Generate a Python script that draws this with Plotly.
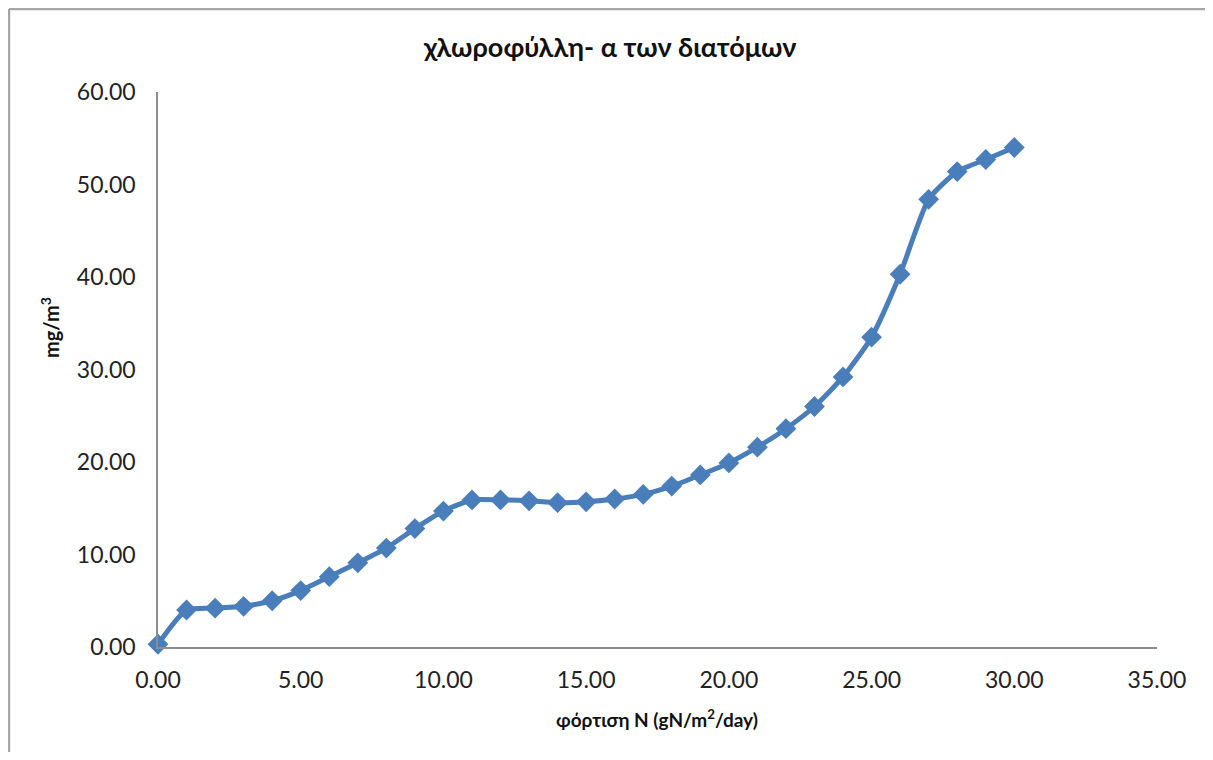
import plotly.graph_objects as go

x_load = [0, 1, 2, 3, 4, 5, 6, 7, 8, 9, 10, 11, 12, 13, 14, 15, 16, 17, 18, 19, 20,
          21, 22, 23, 24, 25, 26, 27, 28, 29, 30]
chl_a = [0.3, 4.0, 4.2, 4.4, 5.0, 6.1, 7.6, 9.1, 10.7, 12.8, 14.7, 15.9, 15.9, 15.8, 15.6,
         15.7, 16.0, 16.5, 17.4, 18.6, 19.9, 21.6, 23.6, 26.0, 29.2, 33.5, 40.3, 48.4,
         51.4, 52.7, 54.0]

x_ticks = [0, 5, 10, 15, 20, 25, 30, 35]
y_ticks = [0, 10, 20, 30, 40, 50, 60]

color = "#4a7ebb"
font_family = "Lato, 'Open Sans', sans-serif"

# page body has an 8px margin; the figure is offset by (8, 8)
W, H = 1197, 744
L, R, T, B = 150, 48, 84, 105
pw, ph = W - L - R, H - T - B


def px(sx):
    return (sx - 8 - L) / pw


def py(sy):
    return (H - B - (sy - 8)) / ph


fig = go.Figure()
fig.add_trace(go.Scatter(
    x=x_load, y=chl_a, mode="lines+markers",
    line=dict(color=color, width=5, shape="spline", smoothing=0.6),
    marker=dict(symbol="diamond", size=16, color=color),
    showlegend=False, cliponaxis=False,
))

fig.update_layout(
    width=W, height=H,
    margin=dict(l=L, r=R, t=T, b=B),
    paper_bgcolor="white", plot_bgcolor="white",
    font=dict(family=font_family, color="#222222"),
    xaxis=dict(range=[0, 35], tickvals=x_ticks,
               ticktext=[f"{v:.2f}" for v in x_ticks],
               showgrid=False, zeroline=False, showline=True,
               linecolor="#8c8c8c", linewidth=1.5, ticks="",
               tickfont=dict(size=23), ticklabelstandoff=12),
    yaxis=dict(range=[0, 60], tickvals=y_ticks,
               ticktext=[f"{v:.2f}" for v in y_ticks],
               showgrid=False, zeroline=False, showline=True,
               linecolor="#8c8c8c", linewidth=1.5, ticks="",
               tickfont=dict(size=23), ticklabelstandoff=16),
    annotations=[
        dict(text="<b>χλωροφύλλη- α των διατόμων</b>", xref="paper", yref="paper",
             x=px(609), y=py(47), showarrow=False, xanchor="center", yanchor="middle",
             font=dict(size=27, color="#111111")),
        dict(text="<b>φόρτιση N (gN/m<sup>2</sup>/day)</b>", xref="paper", yref="paper",
             x=px(657), y=py(718), showarrow=False, xanchor="center", yanchor="middle",
             font=dict(size=19, color="#111111")),
        dict(text="<b>mg/m<sup>3</sup></b>", xref="paper", yref="paper",
             x=px(50), y=py(328), showarrow=False, xanchor="center", yanchor="middle",
             textangle=-90, font=dict(size=20, color="#111111")),
    ],
    shapes=[
        dict(type="line", xref="paper", yref="paper",
             x0=px(9), x1=px(9), y0=py(780), y1=py(9),
             line=dict(color="#a6a6a6", width=2.5), layer="below"),
        dict(type="line", xref="paper", yref="paper",
             x0=px(9), x1=px(1230), y0=py(9), y1=py(9),
             line=dict(color="#a6a6a6", width=2.5), layer="below"),
    ],
)

fig.write_html("out.html")
